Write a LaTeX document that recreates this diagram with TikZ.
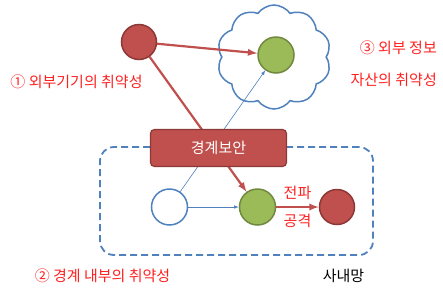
\documentclass[tikz,border=0pt]{standalone}
\usepackage{fontspec}
\setmainfont{Noto Sans CJK KR}
\usepackage{tikz}
\usetikzlibrary{arrows,positioning,shapes.symbols}

\definecolor{secred}{HTML}{C0504D}
\definecolor{secredline}{HTML}{8C3836}
\definecolor{secgreen}{HTML}{9BBB59}
\definecolor{secgreenline}{HTML}{71893F}
\definecolor{secblue}{HTML}{4F81BD}
\definecolor{notered}{HTML}{FF2020}

\begin{document}
\begin{tikzpicture}[
    x=1pt, y=-1pt,
    font=\fontsize{15}{17}\selectfont,
    hostred/.style={draw=secredline, circle, line width=1.5pt, fill=secred, minimum size=35pt, inner sep=0pt},
    hostgreen/.style={draw=secgreenline, circle, line width=1.5pt, fill=secgreen, minimum size=36pt, inner sep=0pt},
    hostwhite/.style={draw=secblue, circle, line width=1.5pt, fill=white, minimum size=36pt, inner sep=0pt},
    attack/.style={->, >=latex, line width=2.2pt, draw=secred},
    flow/.style={->, >=latex, line width=0.6pt, draw=secblue},
    note/.style={text=notered, inner sep=0pt}
]
    \useasboundingbox (0,0) rectangle (443,298);

    % Outside cloud
    \node[cloud, cloud ignores aspect, cloud puffs=10, cloud puff arc=110, draw=secblue, line width=1.5pt, fill=white,
          minimum width=114pt, minimum height=104pt] (cloud) at (274,57) {};
    \node[hostgreen] (asset) at (276,55) {};

    % Inside network
    \node[draw=secblue, line width=1.8pt, dash pattern=on 7pt off 4pt, rounded corners=14pt,
          minimum width=273pt, minimum height=108pt] (lan) at (236.5,201) {};

    % Hosts
    \node[hostred] (ext) at (139,42) {};
    \node[hostwhite] (pc) at (169.5,207) {};
    \node[hostgreen] (victim) at (257.5,207) {};
    \node[hostred] (target) at (337,207) {};

    % Links
    \draw[attack] (ext) -- (asset);
    \draw[attack] (ext) -- (victim);
    \draw[flow] (pc) -- (asset);
    \draw[flow] (pc) -- (victim);
    \draw[attack] (victim) -- node[note, above=6pt] {전파} node[note, below=6pt] {공격} (target);

    % Border box
    \node[draw=secredline, fill=secred, rounded corners=4pt, line width=1.2pt, text=white,
          minimum width=136pt, minimum height=37pt] (gate) at (218.5,148) {경계보안};

    % Labels
    \node[note] (extlabel) at (76.5,82) {① 외부기기의 취약성};
    \node[note, anchor=east] (assetlabel) at (437,48) {③ 외부 정보};
    \node[note, anchor=east] (assetlabel2) at (437,80) {자산의 취약성};
    \node[note] (lanlabel) at (102.5,276) {② 경계 내부의 취약성};
    \node[inner sep=0pt] (lanname) at (343.5,276) {사내망};
\end{tikzpicture}
\end{document}
